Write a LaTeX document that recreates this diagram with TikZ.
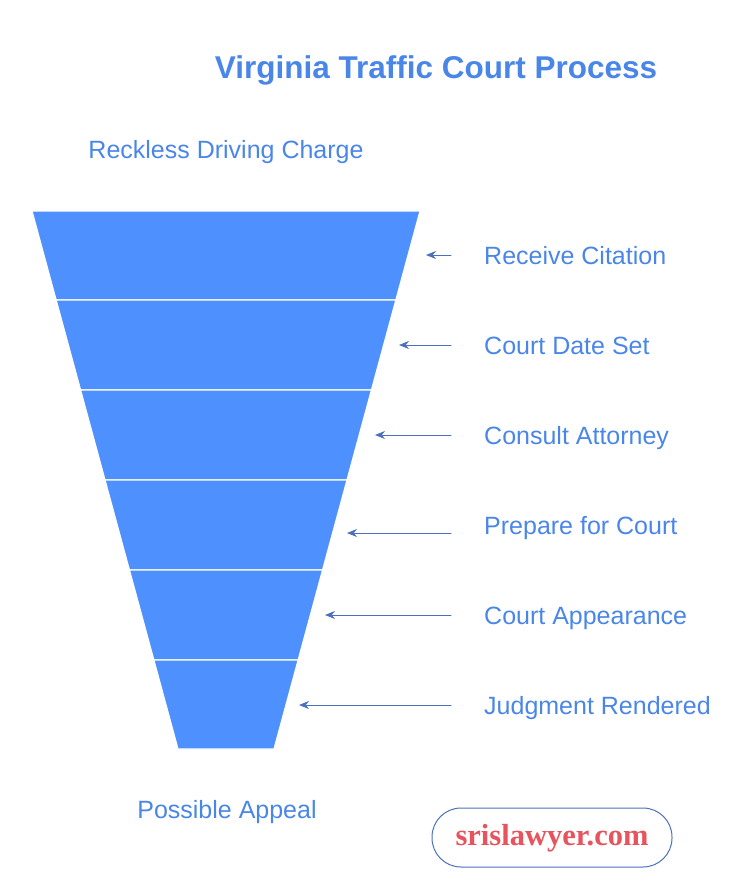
\documentclass[tikz,border=0pt]{standalone}
\usepackage{fontspec}
\setmainfont{Liberation Sans}
\newfontfamily\logofont{Liberation Serif}
\usetikzlibrary{arrows.meta,calc,positioning}
\definecolor{funnelblue}{RGB}{77,144,254}
\definecolor{labelblue}{RGB}{74,134,232}
\definecolor{pointerblue}{RGB}{74,112,190}
\definecolor{logored}{RGB}{232,84,94}
\tikzset{
  every node/.style={font=\fontsize{25}{29}\selectfont, text=labelblue, inner sep=0pt},
  band/.style={fill=funnelblue, draw=white, line width=1.2pt, line join=miter},
  stage/.style={anchor=base west},
  pointer/.style={draw=pointerblue, line width=1pt, -{Stealth[length=10pt, width=8pt]}},
  logobox/.style={draw=pointerblue, line width=1pt, rounded corners=29pt,
    minimum width=240pt, minimum height=59pt, fill=white}
}

\begin{document}
\begin{tikzpicture}[x=1pt, y=-1pt, line cap=round]
  \useasboundingbox (0,0) rectangle (753,887);

  \node[anchor=base, font=\fontsize{31.5}{35}\selectfont\bfseries] (title) at (436,78)
    {Virginia Traffic Court Process};
  \node[anchor=base] (charge) at (226,158) {Reckless Driving Charge};

  % funnel bands
  \foreach \ya/\yb in {211/300,300/390,390/480,480/570,570/660,660/749} {
    \fill[band] ({32+0.2714*(\ya-211)},\ya) -- ({420-0.2714*(\ya-211)},\ya)
      -- ({420-0.2714*(\yb-211)},\yb) -- ({32+0.2714*(\yb-211)},\yb) -- cycle;
  }

  % stages
  \foreach \k/\y/\ay/\tip/\txt in {1/255/255/426/Receive Citation,
      2/345/345/399/Court Date Set,
      3/435/435/375/Consult Attorney,
      4/525/533/347/Prepare for Court,
      5/615/615/325/Court Appearance,
      6/705/705/299/Judgment Rendered} {
    \node[stage] (s\k) at (484,\y+9) {\txt};
    \coordinate (a\k) at (451,\ay);
    \coordinate (b\k) at (\tip,\ay);
    \draw[pointer] (a\k) -- (b\k);
  }

  \node[anchor=base] (appeal) at (227,818) {Possible Appeal};

  \node[logobox] (logo) at (552,837.5) {};
  \node[anchor=base, font=\logofont\fontsize{30.5}{34}\selectfont\bfseries, text=logored]
    (site) at (552,845) {srislawyer.com};
\end{tikzpicture}
\end{document}
